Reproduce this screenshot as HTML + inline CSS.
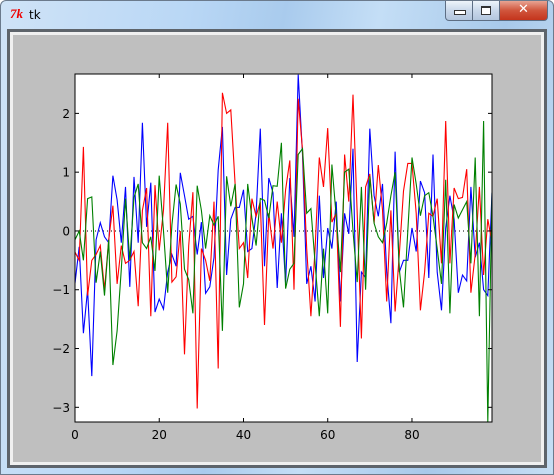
<!DOCTYPE html>
<html><head><meta charset="utf-8"><style>
body{margin:0;width:554px;height:475px;overflow:hidden;background:#fff;font-family:"DejaVu Sans","Liberation Sans",sans-serif}
#win{position:absolute;left:0;top:0;width:552px;height:473px;border:1px solid #6b7a8c;border-radius:6px 6px 0 0;background:linear-gradient(100deg,#cfe3f7 0%,#b9d7f5 30%,#a9cbed 45%,#c4def6 60%,#a8c9ea 80%,#c6def4 100%)}
#title{position:absolute;left:28px;top:7px;font-size:12px;color:#000}
#icon{position:absolute;left:9px;top:5px;font-size:13px;color:#e00;font-style:italic;font-weight:bold;font-family:"Liberation Serif",serif}
.btn{position:absolute;top:0;height:19px;border:1px solid #5d6e84;border-top:none;background:linear-gradient(#eef4fb,#c9d8ea 50%,#b3c6de)}
#frame{position:absolute;left:7px;top:29px;width:540px;height:439px;background:#5e646b}
#inner{position:absolute;left:10px;top:32px;width:534px;height:433px;background:#f0f0f0}
#fig{position:absolute;left:13px;top:35px;width:528px;height:427px;background:#bfbfbf}
svg{position:absolute;left:0;top:0}
</style></head><body>
<div id="win">
<div id="icon">7k</div>
<div id="title">tk</div>
<div class="btn" style="left:444px;width:26px;border-radius:0 0 0 4px"><div style="position:absolute;left:8px;top:9px;width:10px;height:3px;border:1px solid #333;background:#fff"></div></div>
<div class="btn" style="left:471px;width:26px"><div style="position:absolute;left:8px;top:5px;width:8px;height:6px;border:1px solid #333;border-top-width:2px;background:#fff"></div></div>
<div class="btn" style="left:498px;width:47px;border-radius:0 0 4px 0;background:linear-gradient(#e8a493,#d0553c 50%,#c4341c)"><div style="position:absolute;left:0;width:47px;top:1px;text-align:center;color:#fff;font-weight:bold;font-size:13px">✕</div></div>
</div>
<div id="frame"></div>
<div id="inner"></div>
<div id="fig"></div>
<svg id="chart" width="554" height="475"></svg>
<script>
const xTicks=[0,20,40,60,80];
const yTicks=[2,1,0,-1,-2,-3];
const yTickLabels=["2","1","0","\u22121","\u22122","\u22123"];
const blue=[-0.89,-0.27,-1.74,-1.0,-2.47,-0.15,0.14,-0.1,-0.2,0.94,0.53,-0.2,0.75,-0.95,0.92,-0.2,1.84,0.07,0.82,-1.38,-1.16,-1.33,-0.7,-0.4,-0.6,0.99,0.6,0.2,0.25,-0.4,0.15,-1.06,-0.95,-0.45,1.04,1.77,-0.75,0.2,0.4,0.4,0.7,-0.35,-0.3,0.3,1.74,-0.6,0.9,0.65,-0.97,0.3,-0.9,0.9,-0.1,2.66,1.3,-0.9,-0.6,-1.2,0.6,-0.8,0.05,-0.3,0.5,-1.2,0.3,-0.05,1.4,-2.23,-0.7,-0.8,1.74,0.6,0.25,0.8,-0.7,-1.57,1.35,-0.7,-0.5,-0.5,0.05,-0.35,0.85,0.65,-0.8,1.3,-0.7,-1.35,0.05,0.6,0.2,-1.05,-0.75,-0.85,0.75,-0.45,-0.2,-1.0,-1.1,0.65];
const red=[-0.36,-0.5,1.43,-1.1,-0.5,-0.4,-0.25,-1.0,-0.15,0.43,-0.9,-0.25,-0.55,-0.5,-0.35,-1.28,0.35,0.73,-1.45,0.78,-0.33,0.36,1.84,-0.87,-0.78,0.0,-2.1,-0.25,0.66,-3.02,-0.3,-0.5,-0.85,0.5,-2.34,2.35,2.0,2.06,0.8,-0.3,-0.2,-0.8,0.55,0.25,0.5,-1.6,0.3,-0.3,0.5,-0.2,0.7,1.2,-1.0,2.25,1.38,-0.3,-1.45,-0.3,1.25,0.75,1.75,0.15,0.3,-1.63,1.3,0.5,2.32,0.3,-1.83,0.75,0.97,0.13,1.12,0.36,-1.2,0.35,-1.37,-0.4,0.68,1.15,1.15,0.3,-1.35,-0.7,0.3,0.25,0.55,-0.55,1.87,-0.55,0.73,0.55,0.57,1.05,-1.05,-0.4,0.75,-0.75,0.2,-0.2];
const green=[-0.15,0.0,-0.5,0.55,0.58,-0.88,-0.35,-1.1,-0.15,-2.28,-1.7,-0.65,0.55,-0.5,0.57,0.8,-0.2,-0.3,-0.1,-0.68,0.94,0.0,-1.05,0.1,0.79,0.46,-0.65,-0.83,-1.4,0.77,0.35,-0.3,0.26,0.1,0.25,-1.7,0.93,0.42,0.8,-1.3,-0.9,0.8,0.22,-0.25,0.55,0.52,0.22,0.77,0.76,1.5,-0.98,-0.65,-0.55,1.3,1.4,0.3,0.38,-0.55,-1.45,-0.3,-1.4,1.13,0.25,-0.7,1.0,1.05,0.0,-0.87,0.75,-1.0,0.93,0.13,-0.1,-0.2,0.13,0.6,1.0,-0.65,-1.3,0.0,1.25,0.8,0.26,0.6,0.65,0.25,-0.3,-0.9,0.87,-1.4,0.45,0.22,0.36,0.5,-0.55,1.25,-1.45,1.87,-3.25,0.65,0.9];
const X0=75,X1=492,Y0=74,Y1=422,xmin=0,xmax=99,ymin=-3.25,ymax=2.67;
function sx(v){return X0+(v-xmin)/(xmax-xmin)*(X1-X0);}
function sy(v){return Y1-(v-ymin)/(ymax-ymin)*(Y1-Y0);}
const svg=document.getElementById('chart');const NS='http://www.w3.org/2000/svg';
function mk(t,a){const e=document.createElementNS(NS,t);for(const k in a)e.setAttribute(k,a[k]);svg.appendChild(e);return e;}
const bg=mk('rect',{x:X0,y:Y0,width:X1-X0,height:Y1-Y0,fill:'#fff'});


const cp=document.createElementNS(NS,'clipPath');cp.setAttribute('id','clip');const cr=document.createElementNS(NS,'rect');cr.setAttribute('x',X0);cr.setAttribute('y',Y0);cr.setAttribute('width',X1-X0);cr.setAttribute('height',Y1-Y0);cp.appendChild(cr);svg.appendChild(cp);
const zl=mk('line',{x1:X0,x2:X1,y1:sy(0),y2:sy(0),stroke:'#000','stroke-dasharray':'1,3','stroke-width':1});


const series=[[blue,'#0000ff','blue-series'],[red,'#ff0000','red-series'],[green,'#008000','green-series']];
for(const [d,c,n] of series){
 const p=mk('polyline',{points:d.map((v,i)=>sx(i).toFixed(1)+','+sy(v).toFixed(1)).join(' '),fill:'none',stroke:c,'stroke-width':1.1,'clip-path':'url(#clip)'});
 
 
}
for(const t of xTicks){const x=sx(t);
 mk('line',{x1:x,x2:x,y1:Y1,y2:Y1-4,stroke:'#000'});mk('line',{x1:x,x2:x,y1:Y0,y2:Y0+4,stroke:'#000'});
 const tx=mk('text',{x:x,y:Y1+17,'text-anchor':'middle','font-size':12,fill:'#000'});tx.textContent=t;
 
 
}
yTicks.forEach((t,i)=>{const y=sy(t);
 mk('line',{x1:X0,x2:X0+4,y1:y,y2:y,stroke:'#000'});mk('line',{x1:X1,x2:X1-4,y1:y,y2:y,stroke:'#000'});
 const tx=mk('text',{x:X0-5,y:y+4.5,'text-anchor':'end','font-size':12,fill:'#000'});tx.textContent=yTickLabels[i];
 
 
});
const fr=mk('rect',{x:X0,y:Y0,width:X1-X0,height:Y1-Y0,fill:'none',stroke:'#000','stroke-width':1});


</script>
</body></html>
